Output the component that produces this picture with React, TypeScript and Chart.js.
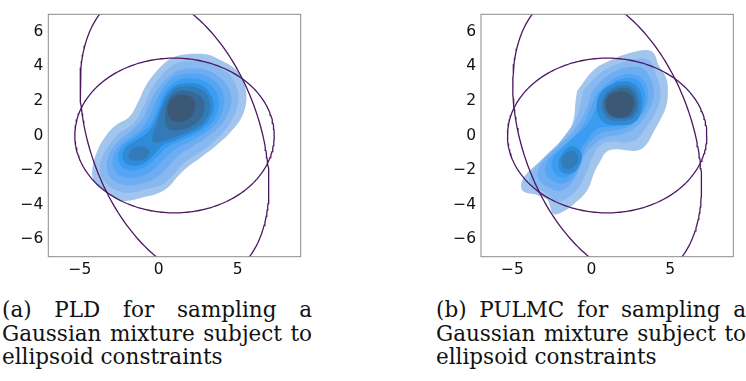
import { useEffect, useRef } from "react";
import { Chart, registerables } from "chart.js";

Chart.register(...registerables);

type Pt = [number, number];

// ---------- axes ----------
const xRange: Pt = [-7, 9];
const yRange: Pt = [-7, 7];
const xTicks = [-5, 0, 5];
const yTicks = [-6, -4, -2, 0, 2, 4, 6];

// ---------- KDE fill colours (outer -> inner) ----------
const levelColors = [
  "#a2c5ee",
  "#88b8f0",
  "#6eadf2",
  "#54a5f3",
  "#3a9df2",
  "#2f8bd7",
  "#337ab8",
  "#376997",
  "#3c5877",
];

// ---------- (a) PLD contour polygons ----------
const pld1: Pt[] = [[2.13,4.72],[3.09,4.68],[3.94,4.34],[4.79,3.88],[5.32,3.31],[5.53,2.57],[5.53,1.82],[5.21,0.97],[4.57,0.22],[3.72,-0.52],[2.66,-1.27],[1.81,-1.84],[1.17,-2.4],[0.64,-2.96],[-0.11,-3.37],[-0.96,-3.56],[-1.81,-3.75],[-2.55,-3.75],[-3.09,-3.37],[-3.72,-3.05],[-4.15,-2.58],[-4.19,-1.84],[-3.85,-0.8],[-3.3,0.05],[-2.7,0.6],[-1.85,1.1],[-1.3,1.95],[-0.8,2.9],[-0.1,3.75],[0.7,4.4],[1.4,4.65]];
const pld2: Pt[] = [[2.1,4.3],[3.0,4.25],[3.9,3.9],[4.6,3.4],[5.0,2.6],[5.0,1.8],[4.7,1.0],[4.1,0.2],[3.3,-0.5],[2.4,-1.1],[1.6,-1.6],[0.9,-2.3],[0.2,-2.85],[-0.8,-3.1],[-1.8,-3.3],[-2.6,-3.2],[-3.3,-2.8],[-3.7,-2.2],[-3.6,-1.3],[-3.1,-0.5],[-2.4,0.2],[-1.6,0.7],[-1.0,1.6],[-0.5,2.6],[0.1,3.4],[0.8,4.0],[1.4,4.25]];
const pld3: Pt[] = [[2.1,3.9],[3.0,3.8],[3.8,3.4],[4.4,2.8],[4.6,2.0],[4.3,1.1],[3.7,0.4],[2.9,-0.2],[2.0,-0.7],[1.2,-1.2],[0.5,-1.9],[-0.3,-2.5],[-1.2,-2.8],[-2.2,-2.85],[-3.0,-2.5],[-3.3,-1.8],[-3.1,-1.0],[-2.5,-0.3],[-1.7,0.3],[-1.0,1.0],[-0.5,2.0],[0.1,2.9],[0.8,3.5],[1.4,3.8]];
const pld4: Pt[] = [[2.0,3.6],[2.9,3.5],[3.6,3.1],[4.1,2.4],[4.1,1.6],[3.7,0.8],[3.0,0.2],[2.1,-0.3],[1.2,-0.7],[0.4,-1.3],[-0.4,-2.0],[-1.3,-2.4],[-2.2,-2.4],[-2.8,-2.0],[-2.9,-1.3],[-2.5,-0.6],[-1.8,-0.1],[-1.0,0.5],[-0.5,1.3],[0.0,2.3],[0.6,3.1],[1.3,3.5]];
const pld5: Pt[] = [[1.9,3.3],[2.7,3.2],[3.4,2.8],[3.8,2.1],[3.7,1.3],[3.2,0.6],[2.4,0.1],[1.4,-0.3],[0.5,-0.7],[-0.3,-1.4],[-1.1,-1.9],[-1.9,-2.0],[-2.5,-1.6],[-2.5,-0.9],[-2.0,-0.4],[-1.2,0.1],[-0.5,0.7],[-0.1,1.5],[0.3,2.4],[0.9,3.0],[1.4,3.25]];
const pld6: Pt[] = [[1.8,3.05],[2.6,2.95],[3.2,2.5],[3.5,1.8],[3.3,1.1],[2.8,0.5],[2.0,0.1],[1.0,-0.3],[0.2,-0.6],[-0.5,-1.3],[-1.2,-1.7],[-1.9,-1.7],[-2.3,-1.3],[-2.1,-0.7],[-1.5,-0.3],[-0.8,0.1],[-0.3,0.7],[0.1,1.6],[0.5,2.4],[1.1,2.9]];
const pld7a: Pt[] = [[1.6,2.85],[2.5,2.75],[3.1,2.3],[3.25,1.6],[2.95,0.9],[2.3,0.4],[1.3,0.0],[0.4,-0.3],[-0.3,-0.4],[-0.4,0.0],[-0.1,0.7],[0.2,1.6],[0.6,2.3],[1.0,2.7]];
const pld7b: Pt[] = [[-1.0,-0.6],[-0.6,-0.9],[-0.8,-1.3],[-1.4,-1.45],[-1.9,-1.3],[-1.8,-0.9],[-1.4,-0.65]];
const pld8: Pt[] = [[1.5,2.6],[2.2,2.5],[2.8,2.1],[2.9,1.5],[2.6,0.9],[2.0,0.5],[1.2,0.3],[0.6,0.4],[0.4,1.0],[0.5,1.8],[0.9,2.4]];
const pld9: Pt[] = [[1.5,2.35],[2.0,2.25],[2.3,1.9],[2.25,1.4],[1.9,0.95],[1.3,0.8],[0.75,0.95],[0.55,1.5],[0.75,2.0],[1.1,2.3]];
const pldLevels: Pt[][][] = [[pld1], [pld2], [pld3], [pld4], [pld5], [pld6], [pld7a, pld7b], [pld8], [pld9]];

// ---------- (b) PULMC contour polygons ----------
const pul1: Pt[] = [[-0.91,2.57],[0.15,3.78],[1.21,4.34],[2.26,4.72],[3.5,4.94],[3.95,4.75],[4.3,4.0],[4.75,3.3],[4.85,2.5],[4.75,1.7],[4.35,0.88],[3.9,0.13],[3.5,-0.5],[3.0,-0.85],[2.26,-0.86],[1.6,-0.8],[0.95,-0.95],[0.55,-1.5],[0.2,-2.1],[-0.25,-3.15],[-1.1,-3.95],[-1.8,-4.4],[-2.4,-4.55],[-2.6,-4.15],[-2.8,-3.7],[-3.45,-3.43],[-4.3,-3.24],[-4.45,-2.8],[-4.1,-2.2],[-3.45,-1.65],[-2.6,-0.9],[-1.97,-0.34],[-1.44,0.22],[-1.12,0.97],[-1.01,1.91]];
const pul2: Pt[] = [[-0.5,2.6],[0.4,3.5],[1.3,4.0],[2.3,4.3],[3.3,4.45],[3.8,4.2],[4.1,3.5],[4.35,2.8],[4.35,2.0],[4.0,1.2],[3.5,0.5],[2.9,-0.2],[2.2,-0.4],[1.4,-0.35],[0.6,-0.55],[0.1,-1.2],[-0.3,-2.1],[-0.8,-3.0],[-1.5,-3.6],[-2.2,-3.8],[-2.9,-3.3],[-3.6,-3.0],[-3.95,-2.6],[-3.7,-2.0],[-3.0,-1.3],[-2.2,-0.6],[-1.6,0.1],[-1.0,0.9],[-0.7,1.8]];
const pul3: Pt[] = [[0.0,2.5],[0.7,3.2],[1.5,3.7],[2.4,3.95],[3.2,3.9],[3.7,3.4],[3.95,2.7],[3.85,1.9],[3.4,1.1],[2.7,0.4],[1.8,0.05],[0.9,-0.1],[0.2,-0.5],[-0.4,-1.1],[-0.8,-2.0],[-1.3,-2.8],[-2.0,-3.2],[-2.7,-3.0],[-3.3,-2.6],[-3.4,-2.0],[-2.9,-1.3],[-2.1,-0.6],[-1.3,0.1],[-0.6,1.0],[-0.2,1.8]];
const pul4: Pt[] = [[0.3,2.4],[1.0,3.0],[1.8,3.45],[2.6,3.55],[3.3,3.2],[3.6,2.5],[3.5,1.7],[3.0,1.0],[2.3,0.5],[1.4,0.3],[0.5,0.1],[-0.2,-0.5],[-0.6,-1.2],[-1.0,-2.2],[-1.6,-2.7],[-2.3,-2.7],[-2.9,-2.2],[-2.8,-1.5],[-2.2,-0.9],[-1.4,-0.3],[-0.6,0.5],[-0.1,1.5]];
const pul5: Pt[] = [[0.6,2.4],[1.3,3.0],[2.1,3.3],[2.9,3.2],[3.35,2.6],[3.35,1.7],[2.9,1.0],[2.1,0.6],[1.2,0.5],[0.4,0.4],[-0.3,-0.3],[-0.7,-0.9],[-0.9,-1.7],[-1.4,-2.3],[-2.0,-2.4],[-2.5,-1.9],[-2.4,-1.3],[-1.8,-0.7],[-1.0,0.0],[-0.3,0.6],[0.2,1.4]];
const pul6a: Pt[] = [[1.6,3.1],[2.6,3.05],[3.15,2.45],[3.15,1.4],[2.7,0.75],[1.7,0.6],[0.8,0.75],[0.35,1.5],[0.6,2.5]];
const pul6b: Pt[] = [[-0.9,-0.7],[-0.6,-1.1],[-0.8,-1.8],[-1.3,-2.2],[-1.9,-2.1],[-2.1,-1.6],[-1.8,-1.0],[-1.3,-0.6]];
const pul7a: Pt[] = [[1.65,2.9],[2.5,2.85],[2.95,2.3],[2.95,1.45],[2.55,0.95],[1.7,0.85],[1.0,1.0],[0.65,1.6],[0.85,2.4]];
const pul7b: Pt[] = [[-1.0,-0.9],[-0.85,-1.4],[-1.2,-1.85],[-1.7,-1.9],[-1.9,-1.5],[-1.6,-1.0]];
const pul8: Pt[] = [[1.7,2.75],[2.4,2.7],[2.8,2.2],[2.8,1.5],[2.4,1.05],[1.7,1.0],[1.1,1.15],[0.8,1.7],[1.0,2.35]];
const pul9: Pt[] = [[1.75,2.55],[2.3,2.5],[2.65,2.1],[2.6,1.5],[2.2,1.1],[1.6,1.05],[1.1,1.3],[0.9,1.8],[1.1,2.3]];
const pulLevels: Pt[][][] = [[pul1], [pul2], [pul3], [pul4], [pul5], [pul6a, pul6b], [pul7a, pul7b], [pul8], [pul9]];

// ---------- ellipsoid constraints (same in both panels) ----------
const ellipseCenters: Pt[] = [[1.0, 0.0], [1.0, 0.0]];
const ellipseSemiAxes: Pt[] = [[6.32, 4.47], [8.69, 5.31]];
const ellipseAnglesDeg = [0, 113.7];
const ellipseColor = "#4b1862";

const captionA = ["(a) PLD for sampling a", "Gaussian mixture subject to", "ellipsoid constraints"];
const captionB = ["(b) PULMC for sampling a", "Gaussian mixture subject to", "ellipsoid constraints"];

function ellipsePoints(i: number) {
  const [cx, cy] = ellipseCenters[i];
  const [a, b] = ellipseSemiAxes[i];
  const th = (ellipseAnglesDeg[i] * Math.PI) / 180;
  const pts: { x: number; y: number }[] = [];
  const n = 240;
  for (let k = 0; k <= n; k++) {
    const t = (2 * Math.PI * k) / n;
    const u = a * Math.cos(t);
    const v = b * Math.sin(t);
    pts.push({ x: cx + u * Math.cos(th) - v * Math.sin(th), y: cy + u * Math.sin(th) + v * Math.cos(th) });
  }
  return pts;
}

function buildDatasets(levels: Pt[][][]) {
  const ds: any[] = [];
  levels.forEach((polys, li) => {
    polys.forEach((poly) => {
      const pts = [...poly, poly[0]].map(([x, y]) => ({ x, y }));
      ds.push({
        data: pts,
        showLine: true,
        fill: "shape",
        backgroundColor: levelColors[li],
        borderColor: "rgba(0,0,0,0)",
        borderWidth: 0,
        pointRadius: 0,
        tension: 0.4,
        order: 100 - li,
      });
    });
  });
  ellipseCenters.forEach((_, i) => {
    ds.push({
      data: ellipsePoints(i),
      showLine: true,
      fill: false,
      borderColor: ellipseColor,
      borderWidth: 1.3,
      pointRadius: 0,
      tension: 0,
      order: 0,
    });
  });
  return ds;
}

const fmt = (v: number | string) => {
  const n = Number(v);
  return n < 0 ? "\u2212" + Math.abs(n) : String(n);
};

const framePlugin = {
  id: "frame",
  afterDatasetsDraw(chart: any) {
    const { ctx, chartArea: a } = chart;
    ctx.save();
    ctx.strokeStyle = "#8a8a8a";
    ctx.lineWidth = 1;
    ctx.strokeRect(a.left, a.top, a.right - a.left, a.bottom - a.top);
    ctx.restore();
  },
};

function Panel(props: { levels: Pt[][][]; left: number; width: number; yAxisWidth: number; rightPad: number }) {
  const ref = useRef<HTMLCanvasElement>(null);
  useEffect(() => {
    if (!ref.current) return;
    const chart = new Chart(ref.current, {
      type: "scatter",
      data: { datasets: buildDatasets(props.levels) },
      plugins: [framePlugin],
      options: {
        animation: false,
        responsive: false,
        maintainAspectRatio: false,
        devicePixelRatio: 1,
        layout: { padding: { top: 5.7, right: props.rightPad, left: 0, bottom: 0 } },
        plugins: { legend: { display: false }, tooltip: { enabled: false } },
        scales: {
          x: {
            type: "linear",
            min: xRange[0],
            max: xRange[1],
            grid: { display: false, drawTicks: false },
            border: { display: false },
            ticks: { font: { family: "DejaVu Sans", size: 15.5 }, color: "#111", padding: 4, callback: fmt, maxRotation: 0 },
            afterBuildTicks: (s: any) => {
              s.ticks = xTicks.map((v) => ({ value: v }));
            },
            afterFit: (s: any) => {
              s.height = 28.3;
            },
          },
          y: {
            type: "linear",
            min: yRange[0],
            max: yRange[1],
            grid: { display: false, drawTicks: false },
            border: { display: false },
            ticks: { font: { family: "DejaVu Sans", size: 15.5 }, color: "#111", padding: 5, callback: fmt },
            afterBuildTicks: (s: any) => {
              s.ticks = yTicks.map((v) => ({ value: v }));
            },
            afterFit: (s: any) => {
              s.width = props.yAxisWidth;
            },
          },
        },
      } as any,
    });
    return () => chart.destroy();
  }, []);
  return (
    <canvas
      ref={ref}
      width={props.width}
      height={285}
      style={{ position: "absolute", left: props.left, top: 0, width: props.width, height: 285 }}
    />
  );
}

function Caption(props: { lines: string[]; left: number }) {
  return (
    <div
      style={{
        position: "absolute",
        left: props.left,
        top: 298,
        width: 310,
        fontFamily: "'DejaVu Serif', serif",
        fontSize: 21.5,
        lineHeight: "23.5px",
        color: "#111",
      }}
    >
      {props.lines.map((l, i) => (
        <div
          key={i}
          style={{
            textAlign: i < props.lines.length - 1 ? "justify" : "left",
            textAlignLast: i < props.lines.length - 1 ? "justify" : "left",
            whiteSpace: "nowrap",
          } as any}
        >
          {l}
        </div>
      ))}
    </div>
  );
}

export default function App() {
  return (
    <div style={{ position: "fixed", left: 0, top: 0, width: 746, height: 381, background: "#fff", overflow: "hidden" }}>
      <Panel levels={pldLevels} left={0} width={320} yAxisWidth={48.3} rightPad={19.3} />
      <Panel levels={pulLevels} left={420} width={326} yAxisWidth={61} rightPad={12.7} />
      <Caption lines={captionA} left={2} />
      <Caption lines={captionB} left={436} />
    </div>
  );
}
